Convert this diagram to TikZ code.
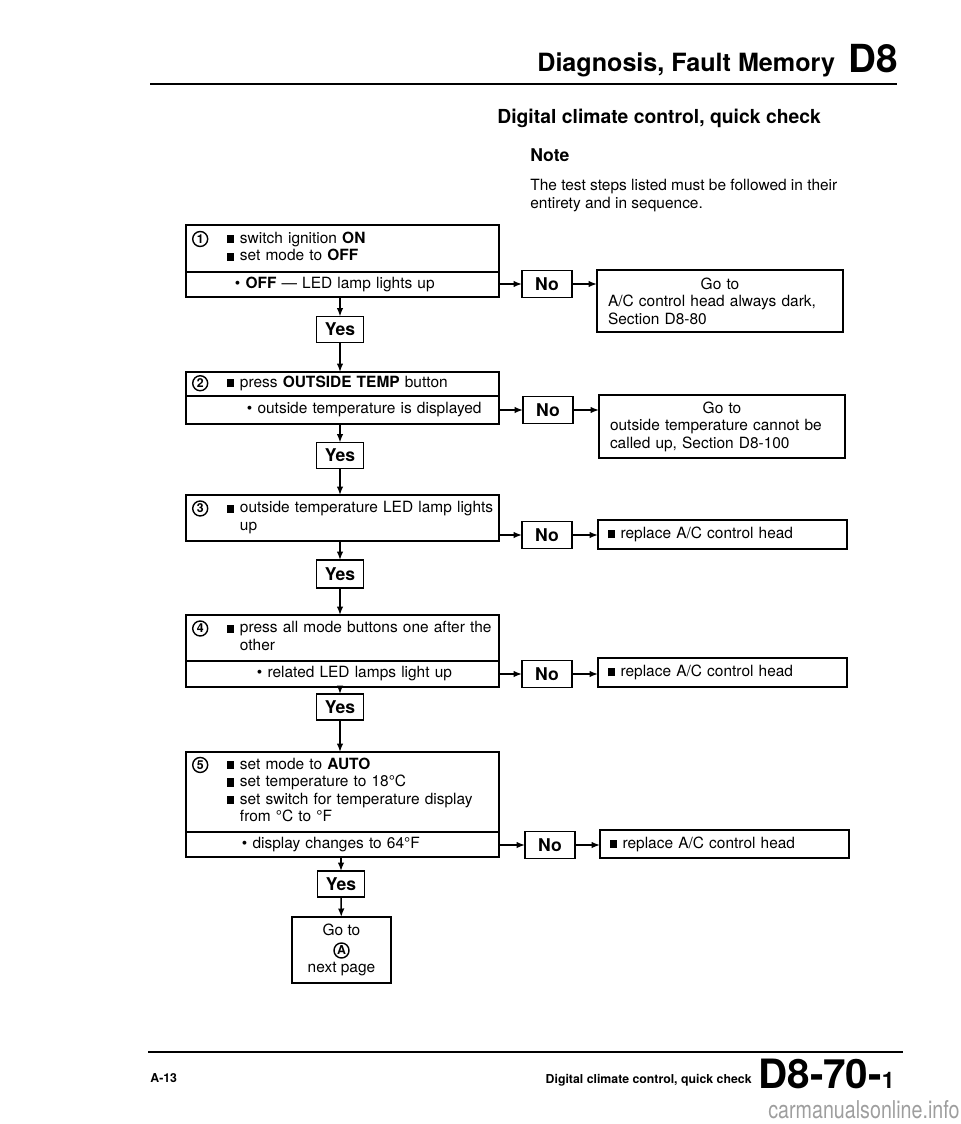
\documentclass[tikz,border=0pt]{standalone}
\usepackage{fontspec}
\setmainfont{TeX Gyre Heros}
\usetikzlibrary{positioning, arrows.meta}

\newcommand{\sqb}{\rule[0.02em]{0.48em}{0.52em}}
\newcommand{\circnum}[2][0.3cm]{\tikz[baseline=(cnum.base)]\node[circle, draw, line width=0.8pt, inner sep=0pt, outer sep=0pt, minimum size=#1, font=\bfseries\fontsize{7}{7}\selectfont] (cnum) {#2};}

\tikzset{
  upbox/.style={draw, line width=1pt, anchor=north west, inner xsep=0pt, inner ysep=0pt, outer sep=0pt, text width=6.26cm, align=left},
  lowbox/.style={draw, line width=1pt, anchor=north west, inner xsep=0pt, inner ysep=0pt, outer sep=0pt, text width=6.26cm, minimum height=0.5cm, align=left, execute at begin node={\hspace*{#1}}},
  yesbox/.style={draw, line width=1pt, minimum width=0.94cm, minimum height=0.52cm, inner sep=0pt, outer sep=0pt, font=\bfseries},
  nobox/.style={draw, line width=1pt, minimum width=1.0cm, minimum height=0.54cm, inner sep=0pt, outer sep=0pt, font=\bfseries},
  gobox/.style={draw, line width=1pt, anchor=north west, inner xsep=0.22cm, inner ysep=0pt, outer sep=0pt, text width=4.48cm, align=left},
  repbox/.style={draw, line width=1pt, anchor=north west, inner xsep=0.2cm, inner ysep=0pt, outer sep=0pt, text width=4.58cm, minimum height=0.58cm, align=left},
  arr/.style={-{Latex[length=1.7mm, width=1.3mm]}, line width=0.8pt}
}

\begin{document}
\begin{tikzpicture}[x=0.02cm, y=-0.02cm, font=\fontsize{8.8}{10}\selectfont]
  \useasboundingbox (0,0) rectangle (960,1124);

  % Header
  \node[anchor=base west, inner sep=0pt, font=\bfseries\fontsize{14.3}{15}\selectfont] (hdr) at (537,72) {Diagnosis, Fault Memory};
  \node[anchor=base west, inner sep=0pt, font=\bfseries\fontsize{22}{22}\selectfont] (hdrno) at (848,73) {D8};
  \draw[line width=1.6pt] (150,84) -- (897,84);
  \node[anchor=base west, inner sep=0pt, font=\bfseries\fontsize{11}{12}\selectfont] (title) at (497,124) {Digital climate control, quick check};
  \node[anchor=base west, inner sep=0pt, font=\bfseries] (note) at (530,162) {Note};
  \node[anchor=north west, inner sep=0pt, align=left] (notetxt) at (530,179) {The test steps listed must be followed in their\\entirety and in sequence.};

  % Step 1
  \node[upbox, minimum height=0.94cm] (up1) at (186,225) {%
    \begin{tabular}{@{}p{0.82cm}@{}p{0.26cm}@{}l@{}}
      \hspace*{0.12cm}\circnum{1} & \sqb & switch ignition \textbf{ON}\\
      & \sqb & set mode to \textbf{OFF}
    \end{tabular}};
  \node[lowbox=0.98cm] (low1) at (up1.south west) {\textbullet\ \textbf{OFF} — LED lamp lights up};
  \node[yesbox] (yes1) at (340,329.5) {Yes};
  \node[nobox] (no1) at (547,284) {No};
  \node[gobox, minimum height=1.24cm] (goto1) at (597,270) {%
    \centerline{Go to}
    A/C control head always dark,\\Section D8-80};

  % Step 2
  \node[upbox, minimum height=0.48cm] (up2) at (186,372) {%
    \begin{tabular}{@{}p{0.82cm}@{}p{0.26cm}@{}l@{}}
      \hspace*{0.12cm}\circnum{2} & \sqb & press \textbf{OUTSIDE TEMP} button
    \end{tabular}};
  \node[lowbox=1.22cm, minimum height=0.56cm] (low2) at (up2.south west) {\textbullet\ outside temperature is displayed};
  \node[yesbox] (yes2) at (340,455.5) {Yes};
  \node[nobox] (no2) at (548,410) {No};
  \node[gobox, minimum height=1.26cm] (goto2) at (599,395) {%
    \centerline{Go to}
    outside temperature cannot be\\called up, Section D8-100};

  % Step 3
  \node[upbox, minimum height=0.92cm] (up3) at (186,495) {%
    \begin{tabular}{@{}p{0.82cm}@{}p{0.26cm}@{}l@{}}
      \hspace*{0.12cm}\circnum{3} & \sqb & outside temperature LED lamp lights\\
      & & up
    \end{tabular}};
  \node[yesbox, minimum height=0.56cm] (yes3) at (340,574) {Yes};
  \node[nobox] (no3) at (547,535) {No};
  \node[repbox] (rep3) at (598,520) {\sqb\ replace A/C control head};

  % Step 4
  \node[upbox, minimum height=0.92cm] (up4) at (186,615) {%
    \begin{tabular}{@{}p{0.82cm}@{}p{0.26cm}@{}l@{}}
      \hspace*{0.12cm}\circnum{4} & \sqb & press all mode buttons one after the\\
      & & other
    \end{tabular}};
  \node[lowbox=1.42cm, minimum height=0.52cm] (low4) at (up4.south west) {\textbullet\ related LED lamps light up};
  \node[yesbox] (yes4) at (340,707) {Yes};
  \node[nobox] (no4) at (547,674) {No};
  \node[repbox] (rep4) at (598,658) {\sqb\ replace A/C control head};

  % Step 5
  \node[upbox, minimum height=1.6cm] (up5) at (186,752) {%
    \begin{tabular}{@{}p{0.82cm}@{}p{0.26cm}@{}l@{}}
      \hspace*{0.12cm}\circnum{5} & \sqb & set mode to \textbf{AUTO}\\
      & \sqb & set temperature to 18°C\\
      & \sqb & set switch for temperature display\\
      & & from °C to °F
    \end{tabular}};
  \node[lowbox=1.12cm] (low5) at (up5.south west) {\textbullet\ display changes to 64°F};
  \node[yesbox] (yes5) at (341,884) {Yes};
  \node[nobox] (no5) at (550,845) {No};
  \node[repbox, minimum height=0.56cm] (rep5) at (600,830) {\sqb\ replace A/C control head};
  \node[draw, line width=1pt, anchor=north west, minimum width=1.98cm, minimum height=1.32cm, inner sep=0pt, outer sep=0pt, align=center] (next) at (292,917) {Go to\\[1pt]\circnum[0.3cm]{A}\\next page};

  % Yes path
  \draw[arr] (low1.south -| yes1) -- (yes1);
  \draw[arr] (yes1) -- (up2.north -| yes1);
  \draw[arr] (low2.south -| yes2) -- (yes2);
  \draw[arr] (yes2) -- (up3.north -| yes2);
  \draw[arr] (up3.south -| yes3) -- (yes3);
  \draw[arr] (yes3) -- (up4.north -| yes3);
  \draw[arr] (low4.south -| yes4) -- (yes4);
  \draw[arr] (yes4) -- (up5.north -| yes4);
  \draw[arr] (low5.south -| yes5) -- (yes5);
  \draw[arr] (yes5) -- (next);

  % No path
  \draw[arr] (no1.west -| low1.east) -- (no1.west);
  \draw[arr] (no1.east) -- (no1 -| goto1.west);
  \draw[arr] (no2.west -| low2.east) -- (no2.west);
  \draw[arr] (no2.east) -- (no2 -| goto2.west);
  \draw[arr] (no3.west -| up3.east) -- (no3.west);
  \draw[arr] (no3.east) -- (no3 -| rep3.west);
  \draw[arr] (no4.west -| low4.east) -- (no4.west);
  \draw[arr] (no4.east) -- (no4 -| rep4.west);
  \draw[arr] (no5.west -| low5.east) -- (no5.west);
  \draw[arr] (no5.east) -- (no5 -| rep5.west);

  % Footer
  \draw[line width=1.6pt] (148,1052) -- (903,1052);
  \node[anchor=base west, inner sep=0pt, font=\bfseries\fontsize{7}{8}\selectfont] (pg) at (150,1082) {A-13};
  \node[anchor=base east, inner sep=0pt, font=\bfseries\fontsize{7}{8}\selectfont] (ftitle) at (752,1083) {Digital climate control, quick check};
  \node[anchor=base west, inner sep=0pt, font=\bfseries\fontsize{23}{23}\selectfont] (ftno) at (758,1088) {D8-70-{\fontsize{13}{13}\selectfont 1}};
  \node[anchor=base west, inner sep=0pt, text=black!38] (wm) at (768,1118) {\scalebox{0.8}[1]{\fontsize{14}{14}\selectfont carmanualsonline.info}};
\end{tikzpicture}
\end{document}
